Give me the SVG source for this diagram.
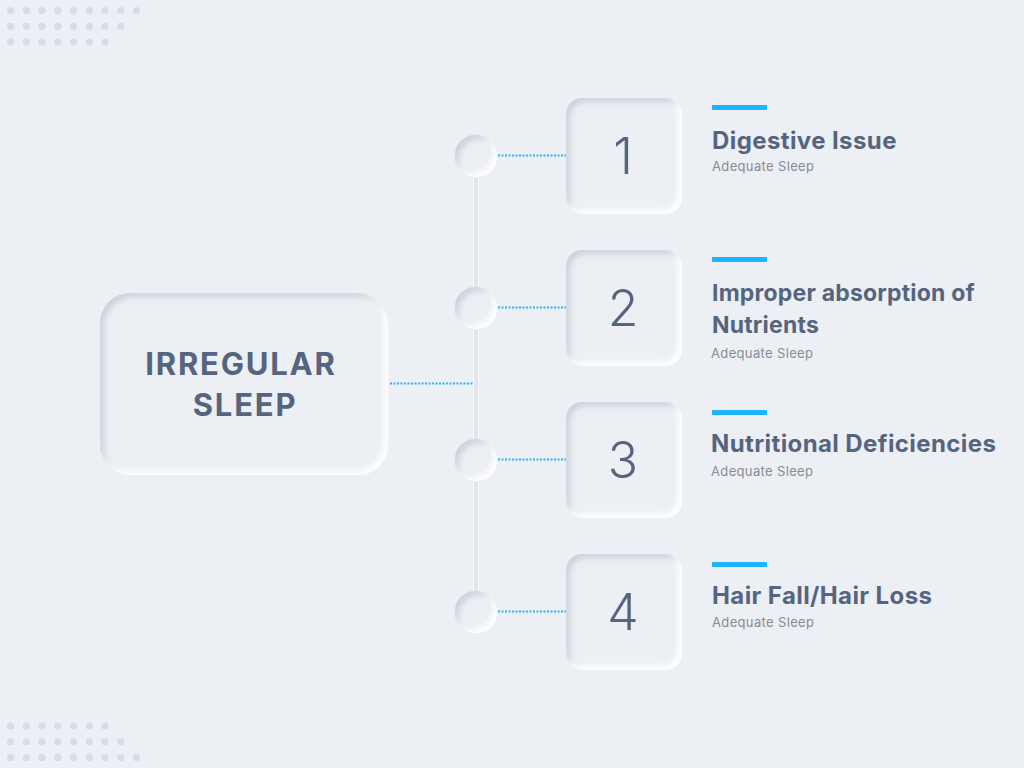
<svg xmlns="http://www.w3.org/2000/svg" width="1024" height="768" viewBox="0 0 1024 768">
<style>
.dot{fill:#d9dce6}
.card{fill:#eceff3}
.num{font-family:Inter,"Noto Sans",sans-serif;font-size:50px;font-weight:300;fill:#56657f;text-anchor:middle}
.title{font-family:Inter,"Noto Sans",sans-serif;font-size:24px;font-weight:700;fill:#56657f;letter-spacing:0.4px}
.title2{font-family:Inter,"Noto Sans",sans-serif;font-size:23px;font-weight:700;fill:#56657f;letter-spacing:0.2px}
.sub{font-family:Inter,"Noto Sans",sans-serif;font-size:13px;fill:#878c96;letter-spacing:0.35px}
.main{font-family:Inter,"Noto Sans",sans-serif;font-size:31px;font-weight:700;fill:#56657f;text-anchor:middle;letter-spacing:1.8px}
.bar{fill:#1fb5fd}
.dotted{stroke:#29b3f5;stroke-width:2;stroke-dasharray:2 1.5;fill:none}
</style>
<defs>
<filter id="inner" x="-10%" y="-10%" width="120%" height="120%">
<feOffset in="SourceAlpha" dx="4" dy="4" result="o1"/>
<feGaussianBlur in="o1" stdDeviation="3" result="b1"/>
<feComposite in="SourceAlpha" in2="b1" operator="out" result="s1"/>
<feFlood flood-color="#c9ccd8" flood-opacity="0.9"/>
<feComposite in2="s1" operator="in" result="dark"/>
<feOffset in="SourceAlpha" dx="-4" dy="-4" result="o2"/>
<feGaussianBlur in="o2" stdDeviation="3" result="b2"/>
<feComposite in="SourceAlpha" in2="b2" operator="out" result="s2"/>
<feFlood flood-color="#ffffff" flood-opacity="1"/>
<feComposite in2="s2" operator="in" result="light"/>
<feMerge><feMergeNode in="SourceGraphic"/><feMergeNode in="dark"/><feMergeNode in="light"/></feMerge>
</filter>
</defs>
<rect width="1024" height="768" fill="#eceff3"/>
<g id="dots-top">
<circle class="dot" cx="10.7" cy="10.7" r="3.6"/><circle class="dot" cx="26.4" cy="10.7" r="3.6"/><circle class="dot" cx="42" cy="10.7" r="3.6"/><circle class="dot" cx="57.8" cy="10.7" r="3.6"/><circle class="dot" cx="73.5" cy="10.7" r="3.6"/><circle class="dot" cx="89.3" cy="10.7" r="3.6"/><circle class="dot" cx="105" cy="10.7" r="3.6"/><circle class="dot" cx="120.8" cy="10.7" r="3.6"/><circle class="dot" cx="136.5" cy="10.7" r="3.6"/>
<circle class="dot" cx="10.7" cy="26.4" r="3.6"/><circle class="dot" cx="26.4" cy="26.4" r="3.6"/><circle class="dot" cx="42" cy="26.4" r="3.6"/><circle class="dot" cx="57.8" cy="26.4" r="3.6"/><circle class="dot" cx="73.5" cy="26.4" r="3.6"/><circle class="dot" cx="89.3" cy="26.4" r="3.6"/><circle class="dot" cx="105" cy="26.4" r="3.6"/><circle class="dot" cx="120.8" cy="26.4" r="3.6"/>
<circle class="dot" cx="10.7" cy="42" r="3.6"/><circle class="dot" cx="26.4" cy="42" r="3.6"/><circle class="dot" cx="42" cy="42" r="3.6"/><circle class="dot" cx="57.8" cy="42" r="3.6"/><circle class="dot" cx="73.5" cy="42" r="3.6"/><circle class="dot" cx="89.3" cy="42" r="3.6"/><circle class="dot" cx="105" cy="42" r="3.6"/>
</g>
<g id="dots-bottom">
<circle class="dot" cx="10.7" cy="726" r="3.6"/><circle class="dot" cx="26.4" cy="726" r="3.6"/><circle class="dot" cx="42" cy="726" r="3.6"/><circle class="dot" cx="57.8" cy="726" r="3.6"/><circle class="dot" cx="73.5" cy="726" r="3.6"/><circle class="dot" cx="89.3" cy="726" r="3.6"/><circle class="dot" cx="105" cy="726" r="3.6"/>
<circle class="dot" cx="10.7" cy="741.7" r="3.6"/><circle class="dot" cx="26.4" cy="741.7" r="3.6"/><circle class="dot" cx="42" cy="741.7" r="3.6"/><circle class="dot" cx="57.8" cy="741.7" r="3.6"/><circle class="dot" cx="73.5" cy="741.7" r="3.6"/><circle class="dot" cx="89.3" cy="741.7" r="3.6"/><circle class="dot" cx="105" cy="741.7" r="3.6"/><circle class="dot" cx="120.8" cy="741.7" r="3.6"/>
<circle class="dot" cx="10.7" cy="757.4" r="3.6"/><circle class="dot" cx="26.4" cy="757.4" r="3.6"/><circle class="dot" cx="42" cy="757.4" r="3.6"/><circle class="dot" cx="57.8" cy="757.4" r="3.6"/><circle class="dot" cx="73.5" cy="757.4" r="3.6"/><circle class="dot" cx="89.3" cy="757.4" r="3.6"/><circle class="dot" cx="105" cy="757.4" r="3.6"/><circle class="dot" cx="120.8" cy="757.4" r="3.6"/><circle class="dot" cx="136.5" cy="757.4" r="3.6"/>
</g>
<g id="connectors">
<rect x="473.5" y="176" width="5" height="416" fill="#e2e5ec" stroke="#f8f9fb" stroke-width="1"/>
<line class="dotted" x1="390" y1="383.5" x2="473" y2="383.5"/>
<line class="dotted" x1="498" y1="155.5" x2="566" y2="155.5"/>
<line class="dotted" x1="498" y1="307.5" x2="566" y2="307.5"/>
<line class="dotted" x1="498" y1="459.5" x2="566" y2="459.5"/>
<line class="dotted" x1="498" y1="611.5" x2="566" y2="611.5"/>
</g>
<g id="main-node">
<rect class="card" x="100" y="293" width="288" height="182" rx="30" filter="url(#inner)"/>
<text class="main" x="241" y="375">IRREGULAR</text>
<text class="main" x="245" y="416">SLEEP</text>
</g>
<g id="circles">
<circle class="card" cx="476" cy="156" r="21.5" filter="url(#inner)"/>
<circle class="card" cx="476" cy="308" r="21.5" filter="url(#inner)"/>
<circle class="card" cx="476" cy="460" r="21.5" filter="url(#inner)"/>
<circle class="card" cx="476" cy="612" r="21.5" filter="url(#inner)"/>
</g>
<g id="node-1">
<rect class="card" x="566" y="98" width="116" height="116" rx="16" filter="url(#inner)"/>
<text class="num" x="623" y="174">1</text>
<rect class="bar" x="712" y="105" width="55" height="5"/>
<text class="title" x="712" y="149">Digestive Issue</text>
<text class="sub" x="712" y="171">Adequate Sleep</text>
</g>
<g id="node-2">
<rect class="card" x="566" y="250" width="116" height="116" rx="16" filter="url(#inner)"/>
<text class="num" x="623" y="326">2</text>
<rect class="bar" x="712" y="257" width="55" height="5"/>
<text class="title2" x="712" y="301">Improper absorption of</text>
<text class="title2" x="712" y="333">Nutrients</text>
<text class="sub" x="711" y="358">Adequate Sleep</text>
</g>
<g id="node-3">
<rect class="card" x="566" y="402" width="116" height="116" rx="16" filter="url(#inner)"/>
<text class="num" x="623" y="478">3</text>
<rect class="bar" x="712" y="410" width="55" height="5"/>
<text class="title" x="711" y="452">Nutritional Deficiencies</text>
<text class="sub" x="711" y="476">Adequate Sleep</text>
</g>
<g id="node-4">
<rect class="card" x="566" y="554" width="116" height="116" rx="16" filter="url(#inner)"/>
<text class="num" x="623" y="630">4</text>
<rect class="bar" x="712" y="562" width="55" height="5"/>
<text class="title" x="712" y="604">Hair Fall/Hair Loss</text>
<text class="sub" x="712" y="627">Adequate Sleep</text>
</g>
</svg>
